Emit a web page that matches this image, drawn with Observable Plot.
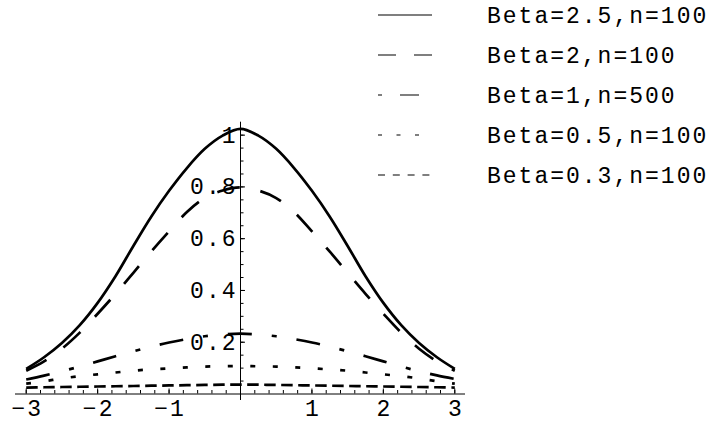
<!DOCTYPE html>
<html><head><meta charset="utf-8">
<script src="https://cdn.jsdelivr.net/npm/d3@7"></script>
<script src="https://cdn.jsdelivr.net/npm/@observablehq/plot@0.6"></script>
<style>
body{margin:0;background:#fff;}
#wrap{position:relative;width:709px;height:421px;overflow:hidden;}
#legend{position:absolute;left:0;top:0;pointer-events:none;}
</style></head><body><div id="wrap"></div>
<script>
// ---- data ----
const xs = [-3,-2.75,-2.5,-2.25,-2,-1.75,-1.5,-1.25,-1,-0.75,-0.5,-0.25,0,0.25,0.5,0.75,1,1.25,1.5,1.75,2,2.25,2.5,2.75,3];
const beta25n100 = [0.097,0.142,0.197,0.266,0.352,0.455,0.572,0.685,0.785,0.873,0.947,0.998,1.024,0.998,0.947,0.873,0.785,0.685,0.572,0.455,0.352,0.266,0.197,0.142,0.097];
const beta2n100  = [0.090,0.126,0.175,0.237,0.310,0.387,0.468,0.550,0.628,0.703,0.757,0.786,0.798,0.786,0.757,0.703,0.628,0.550,0.468,0.387,0.310,0.237,0.175,0.126,0.090];
const beta1n500  = [0.056,0.071,0.088,0.106,0.126,0.146,0.165,0.183,0.199,0.212,0.223,0.230,0.233,0.230,0.223,0.212,0.199,0.183,0.165,0.146,0.126,0.106,0.088,0.072,0.058];
const beta05n100 = [0.040,0.049,0.060,0.069,0.076,0.083,0.090,0.095,0.099,0.103,0.106,0.107,0.108,0.107,0.106,0.103,0.099,0.095,0.090,0.083,0.076,0.069,0.060,0.049,0.040];
const beta03n100 = [0.025,0.026,0.027,0.028,0.029,0.030,0.031,0.032,0.033,0.034,0.035,0.036,0.036,0.036,0.035,0.034,0.033,0.032,0.031,0.030,0.029,0.028,0.027,0.026,0.025];

const seriesLabels = ["Beta=2.5,n=100","Beta=2,n=100","Beta=1,n=500","Beta=0.5,n=100","Beta=0.3,n=100"];
const seriesValues = [beta25n100, beta2n100, beta1n500, beta05n100, beta03n100];

const xTickValues = [-3,-2,-1,1,2,3];
const xTickLabels = ["\u22123","\u22122","\u22121","1","2","3"];
const yTickValues = [0.2,0.4,0.6,0.8,1];
const yTickLabels = ["0.2","0.4","0.6","0.8","1"];

// ---- styling ----
const curveDash  = [null, "23,21", "24,20,5,20", "5,17.5", "11.5,5.5"];
const legendDash = [null, "18,18", "4,18,19,100", "4,14.5", "7,7.8"];
const FONT = "Liberation Mono, Courier New, monospace";
const FS = 23, LS = "2px";

const rows = [];
seriesLabels.forEach((s, k) => xs.forEach((x, i) => rows.push({series: s, x, y: seriesValues[k][i]})));

const xMinor = d3.range(-3, 3.0001, 0.2).map(v => Math.round(v*10)/10).filter(v => Math.abs(v) > 1e-9);
const yMinor = d3.range(0.05, 1.0001, 0.05).map(v => Math.round(v*100)/100);

const lineMarks = seriesLabels.map((s, k) => Plot.line(rows.filter(r => r.series === s), {
  x: "x", y: "y", curve: "catmull-rom", stroke: "#000", strokeWidth: 2.7,
  strokeDasharray: curveDash[k] || undefined, strokeLinecap: "butt"
}));

const chart = Plot.plot({
  width: 709, height: 421,
  marginLeft: 15, marginRight: 244, marginTop: 121.7, marginBottom: 27.5,
  x: {domain: [-3.15, 3.15], axis: null},
  y: {domain: [0, 1.05], axis: null},
  style: {fontFamily: FONT, fontSize: FS + "px", letterSpacing: LS, color: "#000", background: "white", overflow: "visible"},
  marks: [
    Plot.ruleY([0], {stroke: "#000", strokeWidth: 1}),
    Plot.ruleX([0], {stroke: "#000", strokeWidth: 1, insetBottom: -6.5}),
    Plot.ruleX(xMinor, {x: d => d, y1: 0, y2: 0, insetTop: -3.5, stroke: "#000", strokeWidth: 1}),
    Plot.ruleX(xTickValues, {x: d => d, y1: 0, y2: 0, insetTop: -5, stroke: "#000", strokeWidth: 1}),
    Plot.ruleY(yMinor, {y: d => d, x1: 0, x2: 0, insetRight: -3.5, stroke: "#000", strokeWidth: 1}),
    Plot.ruleY(yTickValues, {y: d => d, x1: 0, x2: 0, insetRight: -5, stroke: "#000", strokeWidth: 1}),
    Plot.text(xTickValues, {x: d => d, y: 0, text: (d, i) => xTickLabels[i], lineAnchor: "middle", dy: 14.5, dx: 1, fontFamily: FONT, fontSize: FS, fill: "#000"}),
    Plot.text(yTickValues, {x: 0, y: d => d, text: (d, i) => yTickLabels[i], textAnchor: "end", lineAnchor: "middle", dx: -3, fontFamily: FONT, fontSize: FS, fill: "#000"}),
    ...lineMarks
  ]
});

const wrap = document.getElementById("wrap");
wrap.appendChild(chart);

// ---- legend (top right) ----
const leg = d3.select(wrap).append("svg").attr("id", "legend").attr("width", 709).attr("height", 421);
seriesLabels.forEach((s, k) => {
  const cy = 15 + k * 40;
  leg.append("line").attr("x1", 378).attr("x2", 432).attr("y1", cy).attr("y2", cy)
    .attr("stroke", "#000").attr("stroke-width", 1.2)
    .attr("stroke-dasharray", legendDash[k] || null);
  leg.append("text").attr("x", 487).attr("y", cy).attr("dy", "0.33em")
    .style("font-family", FONT).style("font-size", FS + "px").style("letter-spacing", LS)
    .attr("fill", "#000").text(s);
});
</script></body></html>
